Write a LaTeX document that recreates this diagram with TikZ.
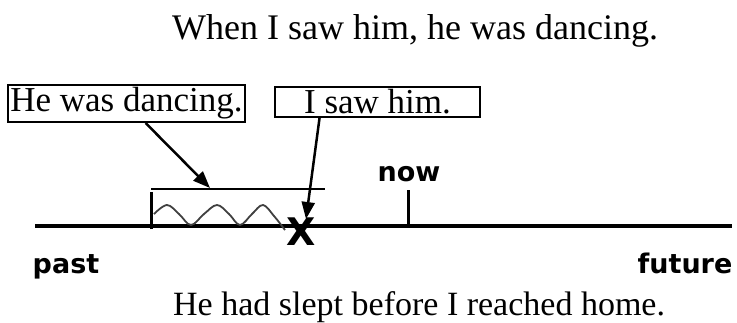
\documentclass[tikz,border=0pt]{standalone}
\usepackage{fontspec}
\setmainfont{Liberation Serif}
\newfontfamily\labfont{DejaVu Sans}
\usetikzlibrary{arrows.meta,calc}
\tikzset{
  sent/.style={inner sep=0pt, anchor=base west, font=\fontsize{36}{40}\selectfont},
  boxed/.style={draw, line width=2pt, inner sep=0pt, font=\fontsize{35}{38}\selectfont},
  lab/.style={inner sep=0pt, font=\labfont\bfseries\fontsize{27}{30}\selectfont},
  axis/.style={line width=4.5pt},
  tick/.style={line width=3pt},
  pointer/.style={line width=2.5pt, -{Triangle[length=17pt,width=13pt]}},
}
\begin{document}
\begin{tikzpicture}[x=1pt,y=-1pt]
\useasboundingbox (0,0) rectangle (737,322);
% sentences
\node[sent] (title) at (172,39) {When I saw him, he was dancing.};
\node[sent, font=\fontsize{34}{38}\selectfont] (bottom) at (173,315) {He had slept before I reached home.};
% boxes
\node[boxed, minimum width=237pt, minimum height=37pt] (box1) at (126.5,103.5) {He was dancing.};
\node[boxed, minimum width=205pt, minimum height=30pt] (box2) at (377.5,102) {I saw him.};
% timeline
\coordinate (tl) at (35,226);
\coordinate (tr) at (732,226);
\draw[axis] (tl) -- (tr);
% now tick
\coordinate (nowbase) at (408,226);
\coordinate (nowtop) at (408,190);
\draw[tick] (nowbase) -- (nowtop);
\node[lab] (now) at (409,174) {now};
\node[lab] (past) at (66,267) {past};
\node[lab] (future) at (685,263) {future};
% duration bracket
\coordinate (dl) at (151,229);
\coordinate (dt) at (151,189);
\coordinate (dr) at (325,189);
\draw[tick] (dl) -- (151,192);
\draw[line width=2pt] (dt) -- (dr);
\coordinate (arr1) at (210,188);
% wave
\draw[line width=1.8pt, black!75] plot[smooth, tension=0.6] coordinates {(154,214) (167,205) (179,214) (191,225) (204,214) (217,205) (229,214) (240,225) (252,214) (263,205) (274,216) (285,230)};
% X mark
\node[inner sep=0pt, font=\labfont\bfseries\fontsize{38}{40}\selectfont] (xmark) at (301,232) {X};
\coordinate (arr2) at (306,219);
% pointers
\draw[pointer] ($(box1.south west)!0.58!(box1.south east)$) -- (arr1);
\draw[pointer] ($(box2.south west)!0.22!(box2.south east)$) -- (arr2);
\end{tikzpicture}
\end{document}
